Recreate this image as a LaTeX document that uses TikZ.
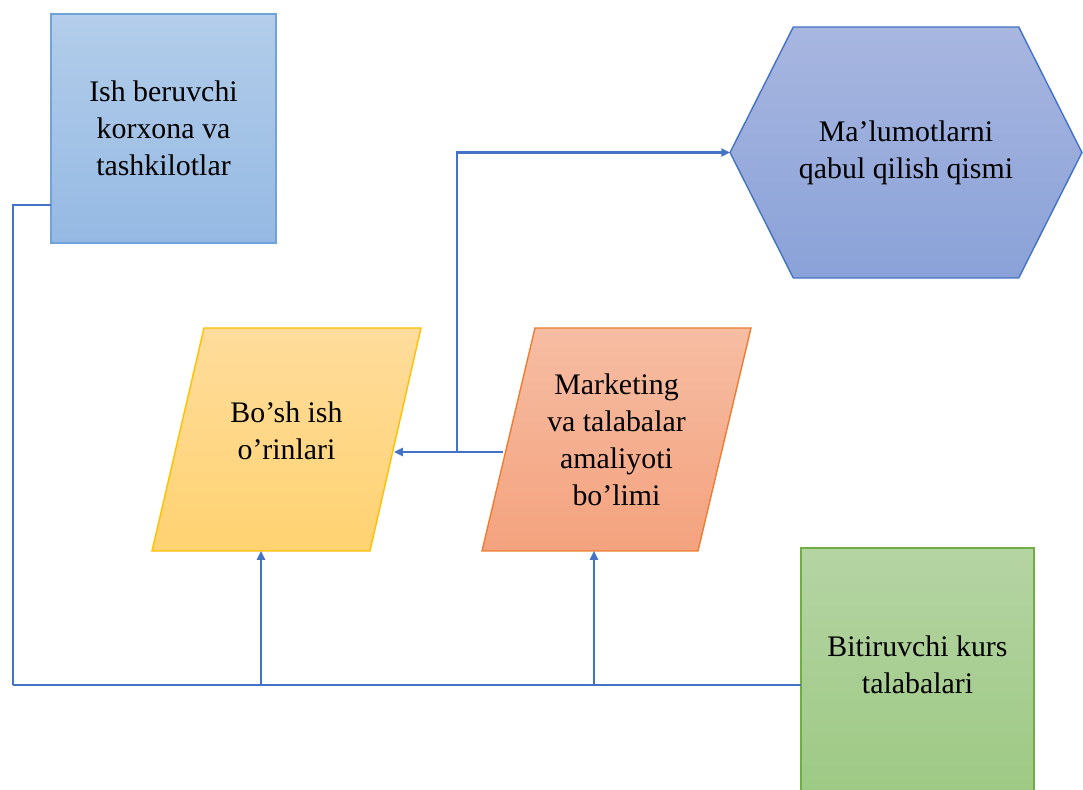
\documentclass[tikz,border=0pt]{standalone}
\usepackage{fontspec}
\setmainfont{Liberation Serif}
\usetikzlibrary{shapes.symbols,arrows.meta}

\definecolor{linkblue}{HTML}{4472C4}
\definecolor{ishtop}{HTML}{B3CDEA}
\definecolor{ishbot}{HTML}{95B9E3}
\definecolor{ishline}{HTML}{6FA3DA}
\definecolor{maltop}{HTML}{A8B6E0}
\definecolor{malbot}{HTML}{8AA2D8}
\definecolor{yeltop}{HTML}{FFDC9C}
\definecolor{yelbot}{HTML}{FFD271}
\definecolor{yelline}{HTML}{FFC000}
\definecolor{ortop}{HTML}{F6BDA3}
\definecolor{orbot}{HTML}{F4A27E}
\definecolor{orline}{HTML}{ED7D31}
\definecolor{grtop}{HTML}{B5D4A3}
\definecolor{grbot}{HTML}{9DC984}
\definecolor{grline}{HTML}{70AD47}

\tikzset{
  blok/.style={align=center, inner sep=0pt, outer sep=0pt, line width=0.8pt,
    font=\fontsize{17}{21}\selectfont},
  ulanish/.style={draw=linkblue, line width=1.2pt},
  strelka/.style={ulanish, -{Triangle[length=5pt,width=4.5pt]}}
}

\begin{document}
\begin{tikzpicture}[x=0.02cm,y=-0.02cm]
    \clip (0,0) rectangle (1083,790);

    % bloklar
    \node[blok, draw=ishline, top color=ishtop, bottom color=ishbot,
          minimum width=4.5cm, minimum height=4.58cm] (ish) at (163.5,128.5)
          {Ish beruvchi\\korxona va\\tashkilotlar};
    \node[blok, signal, signal to=west and east, signal pointer angle=126.5,
          draw=linkblue, top color=maltop, bottom color=malbot,
          minimum width=7.04cm, minimum height=5.02cm] (malu) at (906,152.5)
          {Ma’lumotlarni\\qabul qilish qismi};

    % parallelogrammlar
    \shade[draw=yelline, line width=0.8pt, top color=yeltop, bottom color=yelbot]
          (152,551) -- (204,328) -- (421,328) -- (370,551) -- cycle;
    \node[blok] (bosh) at (286.5,431) {Bo’sh ish\\o’rinlari};
    \shade[draw=orline, line width=0.8pt, top color=ortop, bottom color=orbot]
          (482,551) -- (535,328) -- (751,328) -- (698,551) -- cycle;
    \node[blok] (mark) at (616.5,439.5) {Marketing\\va talabalar\\amaliyoti\\bo’limi};

    % pastki blok (rasm chetidan chiqib ketadi)
    \shade[draw=grline, line width=0.8pt, top color=grtop, bottom color=grbot]
          (801,548) rectangle (1034,800);
    \node[blok] (bit) at (917.5,665) {Bitiruvchi kurs\\talabalari};

    % ulanishlar
    \coordinate (bus) at (13,685);
    \coordinate (bitchap) at (801,685);
    \coordinate (boshpast) at (261,551);
    \coordinate (markpast) at (594,551);
    \coordinate (boshon) at (394,452);
    \coordinate (markchap) at (503,452);
    \coordinate (tugun) at (457,452);
    \draw[ulanish] (ish.south west) ++(0,-38) -| (bus);
    \draw[ulanish, line width=1.7pt] (bus) -- (bitchap);
    \draw[strelka] (bus -| boshpast) -- (boshpast);
    \draw[strelka] (bus -| markpast) -- (markpast);
    \draw[strelka] (markchap) -- (boshon);
    \draw[strelka] (tugun) |- (malu.west);
\end{tikzpicture}
\end{document}
